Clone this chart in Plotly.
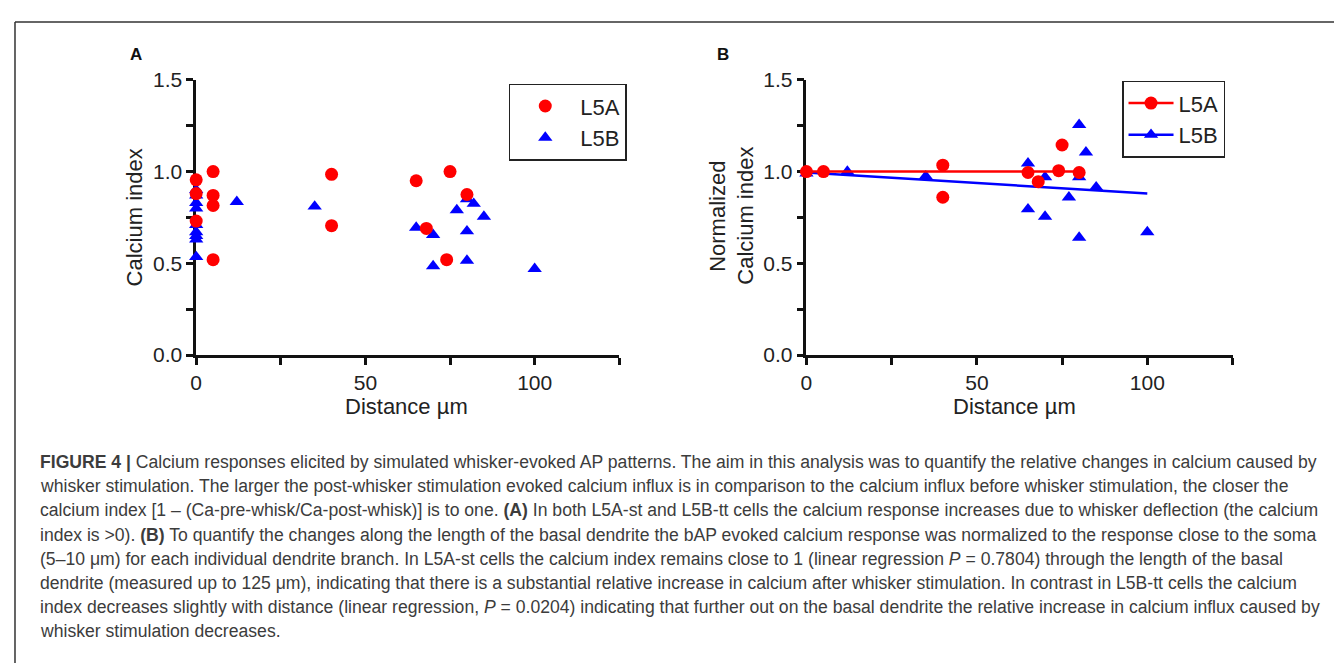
import plotly.graph_objects as go

W, H = 1342, 666
OFF = 8  # page body margin that shifts the figure on screen
FONT = "Liberation Sans, Arial, Helvetica, sans-serif"

# ---------------- data ----------------
# Panel A: raw calcium index
a_l5a_x = [0, 0, 0, 5, 5, 5, 5, 40, 40, 65, 68, 75, 74, 80]
a_l5a_y = [0.955, 0.88, 0.73, 1.00, 0.87, 0.815, 0.52, 0.985, 0.705, 0.95, 0.69, 1.00, 0.52, 0.875]
a_l5b_x = [0, 0, 0, 0, 0, 0, 0, 0, 0, 12, 35, 65, 70, 70, 77, 80, 82, 85, 80, 80, 100]
a_l5b_y = [0.90, 0.87, 0.83, 0.80, 0.71, 0.67, 0.65, 0.63, 0.535,
           0.835, 0.81, 0.695, 0.655, 0.485, 0.79, 0.85, 0.825, 0.755, 0.675, 0.515, 0.47]

# Panel B: normalized calcium index
b_l5a_x = [0, 5, 40, 40, 65, 68, 74, 75, 80]
b_l5a_y = [1.00, 1.00, 1.035, 0.86, 0.995, 0.945, 1.005, 1.145, 0.995]
b_l5b_x = [0, 12, 35, 65, 65, 70, 70, 77, 80, 80, 80, 82, 85, 100]
b_l5b_y = [0.99, 1.00, 0.975, 1.045, 0.795, 0.97, 0.755, 0.86, 1.255, 0.97, 0.64, 1.105, 0.915, 0.67]

# Linear regression parameters (intercept, slope)
fit_l5a = (1.0, 0.0)
fit_l5b = (0.995, -0.00115)

x_ticks = [0, 50, 100]
x_minor = [25, 75, 125]
y_ticks = [0, 0.5, 1.0, 1.5]
y_ticktext = ["0.0", "0.5", "1.0", "1.5"]
y_minor = [0.25, 0.75, 1.25]

caption_lines = [
    "<b>FIGURE 4 |</b> Calcium responses elicited by simulated whisker-evoked AP patterns. The aim in this analysis was to quantify the relative changes in calcium caused by",
    "whisker stimulation. The larger the post-whisker stimulation evoked calcium influx is in comparison to the calcium influx before whisker stimulation, the closer the",
    "calcium index [1 – (Ca-pre-whisk/Ca-post-whisk)] is to one. <b>(A)</b> In both L5A-st and L5B-tt cells the calcium response increases due to whisker deflection (the calcium",
    "index is &gt;0). <b>(B)</b> To quantify the changes along the length of the basal dendrite the bAP evoked calcium response was normalized to the response close to the soma",
    "(5–10 μm) for each individual dendrite branch. In L5A-st cells the calcium index remains close to 1 (linear regression <i>P</i> = 0.7804) through the length of the basal",
    "dendrite (measured up to 125 μm), indicating that there is a substantial relative increase in calcium after whisker stimulation. In contrast in L5B-tt cells the calcium",
    "index decreases slightly with distance (linear regression, <i>P</i> = 0.0204) indicating that further out on the basal dendrite the relative increase in calcium influx caused by",
    "whisker stimulation decreases.",
]

RED = "#ff0000"
BLUE = "#0000ff"


def px_x(x):
    return (x - OFF) / W


def px_y(y):
    return 1 - (y - OFF) / H


fig = go.Figure()

msize_c = 13
msize_t = 12.5

# ---------- Panel A ----------
fig.add_trace(go.Scatter(x=a_l5b_x, y=a_l5b_y, mode="markers", name="L5B",
                         marker=dict(symbol="triangle-up", size=msize_t, color=BLUE),
                         xaxis="x", yaxis="y", cliponaxis=False, legend="legend", legendrank=2))
fig.add_trace(go.Scatter(x=a_l5a_x, y=a_l5a_y, mode="markers", name="L5A",
                         marker=dict(symbol="circle", size=msize_c, color=RED),
                         xaxis="x", yaxis="y", cliponaxis=False, legend="legend", legendrank=1))


# ---------- Panel B ----------
def fit_line(xs, fit):
    x0, x1 = min(xs), max(xs)
    return [x0, x1], [fit[0] + fit[1] * x0, fit[0] + fit[1] * x1]


lx, ly = fit_line(b_l5b_x, fit_l5b)
fig.add_trace(go.Scatter(x=lx, y=ly, mode="lines", line=dict(color=BLUE, width=2.5),
                         xaxis="x2", yaxis="y2", showlegend=False, cliponaxis=False))
fig.add_trace(go.Scatter(x=b_l5b_x, y=b_l5b_y, mode="markers", showlegend=False,
                         marker=dict(symbol="triangle-up", size=msize_t, color=BLUE),
                         xaxis="x2", yaxis="y2", cliponaxis=False))
lx, ly = fit_line(b_l5a_x, fit_l5a)
fig.add_trace(go.Scatter(x=lx, y=ly, mode="lines", line=dict(color=RED, width=2.5),
                         xaxis="x2", yaxis="y2", showlegend=False, cliponaxis=False))
fig.add_trace(go.Scatter(x=b_l5a_x, y=b_l5a_y, mode="markers", showlegend=False,
                         marker=dict(symbol="circle", size=msize_c, color=RED),
                         xaxis="x2", yaxis="y2", cliponaxis=False))
# legend entries for panel B (line + marker)
fig.add_trace(go.Scatter(x=[None], y=[None], mode="lines+markers", name="L5A",
                         line=dict(color=RED, width=2.5),
                         marker=dict(symbol="circle", size=msize_c, color=RED),
                         xaxis="x2", yaxis="y2", legend="legend2", legendrank=1))
fig.add_trace(go.Scatter(x=[None], y=[None], mode="lines+markers", name="L5B",
                         line=dict(color=BLUE, width=2.5),
                         marker=dict(symbol="triangle-up", size=msize_t, color=BLUE),
                         xaxis="x2", yaxis="y2", legend="legend2", legendrank=2))

axis_common = dict(
    showline=True, linewidth=2.5, linecolor="#111",
    ticks="outside", ticklen=7, tickwidth=2.5, tickcolor="#111",
    showgrid=False, zeroline=False, layer="below traces", fixedrange=True,
    tickfont=dict(family=FONT, size=21, color="#222"),
)

xa = dict(axis_common, range=[0, 125], tickmode="array", tickvals=x_ticks,
          minor=dict(tickmode="array", tickvals=x_minor, ticks="outside", ticklen=7,
                     tickwidth=2.5, tickcolor="#111", showgrid=False))
ya = dict(axis_common, range=[0, 1.5], tickmode="array", tickvals=y_ticks, ticktext=y_ticktext,
          minor=dict(tickmode="array", tickvals=y_minor, ticks="outside", ticklen=7,
                     tickwidth=2.5, tickcolor="#111", showgrid=False))

Y_DOM = [px_y(355), px_y(70)]

legend_common = dict(
    xanchor="left", yanchor="top", bgcolor="white", bordercolor="#222", borderwidth=1.5,
    font=dict(family=FONT, size=22, color="#222"), tracegroupgap=0,
)

annotations = [
    dict(text="<b>A</b>", x=px_x(131), y=px_y(44), font=dict(family=FONT, size=17, color="#111")),
    dict(text="<b>B</b>", x=px_x(720), y=px_y(44), font=dict(family=FONT, size=17, color="#111")),
    dict(text="Calcium index", x=px_x(130), y=px_y(212), textangle=-90,
         font=dict(family=FONT, size=22, color="#222")),
    dict(text="Distance µm", x=px_x(402), y=px_y(408), font=dict(family=FONT, size=22, color="#222")),
    dict(text="Normalized", x=px_x(715), y=px_y(211), textangle=-90,
         font=dict(family=FONT, size=22, color="#222")),
    dict(text="Calcium index", x=px_x(743), y=px_y(211), textangle=-90,
         font=dict(family=FONT, size=22, color="#222")),
    dict(text="Distance µm", x=px_x(1013), y=px_y(408), font=dict(family=FONT, size=22, color="#222")),
]
for a in annotations:
    a.update(xref="paper", yref="paper", showarrow=False, xanchor="center", yanchor="middle")

cap_y0 = 466
for i, line in enumerate(caption_lines):
    annotations.append(dict(text=line, x=px_x(32), y=px_y(cap_y0 + 25 * i), xref="paper", yref="paper",
                            showarrow=False, xanchor="left", yanchor="middle", align="left",
                            font=dict(family=FONT, size=17.6, color="#3c3c3c")))

shapes = [
    dict(type="line", xref="paper", yref="paper", x0=px_x(9), x1=1, y0=px_y(10), y1=px_y(10),
         line=dict(color="#333", width=1.5)),
    dict(type="line", xref="paper", yref="paper", x0=px_x(9), x1=px_x(9), y0=px_y(10), y1=0,
         line=dict(color="#333", width=1.5)),
]

fig.update_layout(
    width=W, height=H, margin=dict(l=0, r=0, t=0, b=0),
    paper_bgcolor="white", plot_bgcolor="white",
    xaxis=dict(xa, domain=[px_x(191), px_x(616)], anchor="y"),
    yaxis=dict(ya, domain=Y_DOM, anchor="x"),
    xaxis2=dict(xa, domain=[px_x(804), px_x(1232)], anchor="y2"),
    yaxis2=dict(ya, domain=Y_DOM, anchor="x2"),
    legend=dict(legend_common, x=px_x(505), y=px_y(74), itemwidth=60),
    legend2=dict(legend_common, x=px_x(1121), y=px_y(71), itemwidth=45),
    annotations=annotations,
    shapes=shapes,
    font=dict(family=FONT),
)

fig.write_html("out.html")
